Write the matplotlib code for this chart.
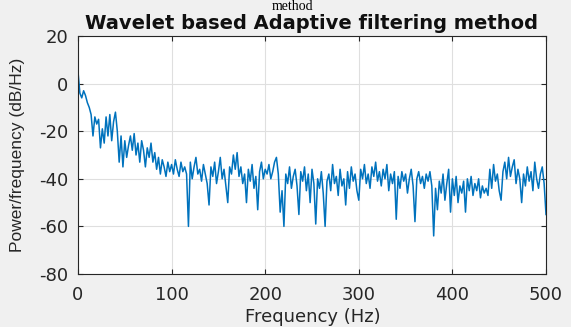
import matplotlib

matplotlib.use("Agg")
import matplotlib.pyplot as plt
import numpy as np

# PSD estimate, one value every 2 Hz (0..500 Hz)
freq_hz = np.arange(0, 501, 2)
psd_db = [
    5, -4, -6, -3, -5, -8, -10, -13, -22, -14,
    -17, -15, -27, -19, -25, -14, -22, -13, -24, -16,
    -12, -20, -33, -22, -35, -24, -31, -26, -22, -28,
    -21, -30, -25, -33, -24, -28, -35, -27, -31, -25,
    -33, -29, -36, -31, -38, -32, -35, -39, -33, -37,
    -34, -38, -32, -36, -39, -33, -37, -35, -38, -60,
    -33, -40, -35, -31, -38, -36, -41, -34, -38, -42,
    -51, -35, -39, -33, -42, -37, -31, -40, -36, -43,
    -50, -35, -38, -30, -36, -29, -39, -35, -42, -38,
    -50, -36, -41, -34, -44, -39, -53, -37, -33, -40,
    -36, -38, -34, -40, -37, -33, -31, -38, -54, -45,
    -60, -38, -42, -35, -44, -39, -36, -43, -55, -37,
    -41, -35, -45, -38, -50, -36, -42, -59, -40, -44,
    -37, -46, -60, -41, -38, -45, -34, -42, -39, -47,
    -36, -43, -40, -51, -37, -44, -35, -41, -38, -45,
    -49, -36, -40, -34, -42, -38, -44, -35, -39, -33,
    -41, -37, -43, -36, -40, -34, -45, -38, -42, -37,
    -57, -39, -44, -37, -41, -38, -46, -40, -36, -43,
    -58, -40, -37, -42, -39, -44, -38, -41, -37, -43,
    -64, -44, -53, -41, -46, -38, -49, -42, -36, -54,
    -40, -47, -39, -50, -43, -46, -41, -54, -40, -45,
    -39, -47, -42, -45, -40, -48, -43, -46, -44, -47,
    -36, -44, -34, -41, -38, -45, -49, -37, -33, -40,
    -31, -39, -35, -32, -42, -36, -40, -50, -38, -43,
    -35, -41, -37, -45, -33, -40, -44, -38, -35, -42,
    -55,
]
x_ticks = [0, 100, 200, 300, 400, 500]
y_ticks = [-80, -60, -40, -20, 0, 20]

plt.rcParams["font.family"] = ["DejaVu Sans"]
plt.rcParams["axes.unicode_minus"] = False

fig = plt.figure(figsize=(5.71, 3.27), dpi=100, facecolor="#F0F0F0")
ax = fig.add_axes([78 / 571, 1 - 274 / 327, 468 / 571, 238 / 327])
ax.set_facecolor("white")

ax.plot(freq_hz, psd_db, color="#0072BD", linewidth=1.1)

ax.set_xlim(0, 500)
ax.set_ylim(-80, 20)
ax.set_xticks(x_ticks)
ax.set_yticks(y_ticks)
ax.grid(True, color="#DFDFDF", linewidth=0.8)
ax.set_axisbelow(True)
ax.tick_params(direction="in", length=3.5, width=0.8, colors="#262626",
               labelsize=13, top=True, right=True)
ax.tick_params(axis="x", pad=9)
ax.tick_params(axis="y", pad=7)
for spine in ax.spines.values():
    spine.set_color("#262626")
    spine.set_linewidth(0.8)

fig.text(312 / 571, 1 - 23.5 / 327, "Wavelet based Adaptive filtering method",
         ha="center", va="center", fontsize=14, fontweight="bold", color="#101010")
fig.text(293 / 571, 1 - 9.8 / 327, "method", ha="center", va="baseline",
         fontsize=10, family=["Liberation Serif", "DejaVu Serif"], color="black")
fig.text(313 / 571, 1 - 322 / 327, "Frequency (Hz)", ha="center", va="baseline",
         fontsize=13, color="#262626")
fig.text(18 / 571, 1 - 155 / 327, "Power/frequency (dB/Hz)", ha="center", va="center",
         rotation=90, fontsize=12.5, family=["Liberation Sans", "DejaVu Sans"],
         color="#262626")

fig.savefig("out.png", dpi=100, facecolor=fig.get_facecolor())
